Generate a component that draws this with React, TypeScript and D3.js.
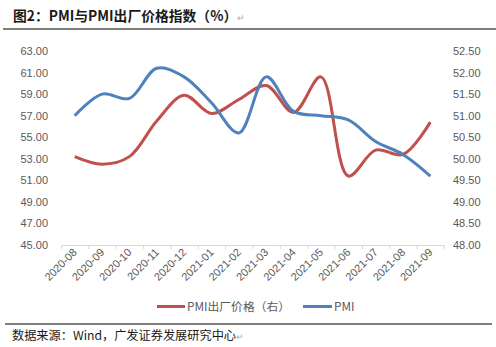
import React from "react";
import * as d3 from "d3";

const categories = ["2020-08","2020-09","2020-10","2020-11","2020-12","2021-01","2021-02","2021-03","2021-04","2021-05","2021-06","2021-07","2021-08","2021-09"];
const priceValues = [53.2,52.5,53.2,56.5,58.9,57.2,58.5,59.8,57.3,60.6,51.4,53.8,53.4,56.4];
const pmiValues = [51.0,51.5,51.4,52.1,51.9,51.3,50.6,51.9,51.1,51.0,50.9,50.4,50.1,49.6];
const leftTicks = [45,47,49,51,53,55,57,59,61,63];
const rightTicks = [48,48.5,49,49.5,50,50.5,51,51.5,52,52.5];

const W = 496, H = 347;
const x0 = 61, x1 = 444, yTop = 51, yBot = 245;

export default function App() {
  const x = d3.scaleBand<string>().domain(categories).range([x0, x1]);
  const yL = d3.scaleLinear().domain([45, 63]).range([yBot, yTop]);
  const yR = d3.scaleLinear().domain([48, 52.5]).range([yBot, yTop]);
  const cx = (c: string) => (x(c) as number) + x.bandwidth() / 2;
  const lineL = d3.line<number>().x((_, i) => cx(categories[i])).y(v => yL(v)).curve(d3.curveCatmullRom.alpha(0.5));
  const lineR = d3.line<number>().x((_, i) => cx(categories[i])).y(v => yR(v)).curve(d3.curveCatmullRom.alpha(0.5));
  const labelFont = "'Liberation Sans', Arial, sans-serif";
  const cjk = "'Noto Sans CJK SC', sans-serif";
  const bounds = [...categories.map(c => x(c) as number), x1];
  return (
    <svg width={W} height={H} style={{ position: "absolute", left: 0, top: 0, background: "#fff" }}>
      <text x={13} y={21} fontFamily={cjk} fontWeight="bold" fontSize={13.8} fill="#1a1a1a">
        图2：PMI与PMI出厂价格指数（%）<tspan fill="#aaa" fontWeight="normal" fontSize={9}>↵</tspan>
      </text>
      <line x1={3} x2={496} y1={29} y2={29} stroke="#000" strokeWidth={1.2} />
      {leftTicks.map(t => (
        <text key={"l" + t} x={48} y={yL(t) + 4} textAnchor="end" fontFamily={labelFont} fontSize={11} fill="#595959">{t.toFixed(2)}</text>
      ))}
      {rightTicks.map(t => (
        <text key={"r" + t} x={453} y={yR(t) + 4} textAnchor="start" fontFamily={labelFont} fontSize={11} fill="#595959">{t.toFixed(2)}</text>
      ))}
      <line x1={x0} x2={x1} y1={yBot + 0.5} y2={yBot + 0.5} stroke="#d9d9d9" />
      {bounds.map((b, i) => (
        <line key={"tk" + i} x1={b + 0.5} x2={b + 0.5} y1={yBot} y2={yBot + 4} stroke="#d9d9d9" />
      ))}
      {categories.map(c => (
        <text key={c} transform={`translate(${cx(c) + 3},${yBot + 8}) rotate(-45)`} textAnchor="end" fontFamily={labelFont} fontSize={11} fill="#595959">{c}</text>
      ))}
      <path d={lineL(priceValues) || ""} fill="none" stroke="#C0504D" strokeWidth={3} strokeLinejoin="round" />
      <path d={lineR(pmiValues) || ""} fill="none" stroke="#4F81BD" strokeWidth={3} strokeLinejoin="round" />
      <line x1={157} x2={185} y1={306.5} y2={306.5} stroke="#C0504D" strokeWidth={3} />
      <text x={187} y={310.5} fontFamily={cjk} fontSize={11.8} fill="#595959">PMI出厂价格（右）</text>
      <line x1={303} x2={332} y1={306.5} y2={306.5} stroke="#4F81BD" strokeWidth={3} />
      <text x={334} y={310.5} fontFamily={cjk} fontSize={11.8} fill="#595959">PMI</text>
      <line x1={5} x2={492} y1={324} y2={324} stroke="#000" strokeWidth={1} />
      <text x={12} y={340} fontFamily={cjk} fontSize={12.2} fill="#1a1a1a">
        数据来源：Wind，广发证券发展研究中心<tspan fill="#aaa" fontSize={9}>↵</tspan>
      </text>
    </svg>
  );
}
